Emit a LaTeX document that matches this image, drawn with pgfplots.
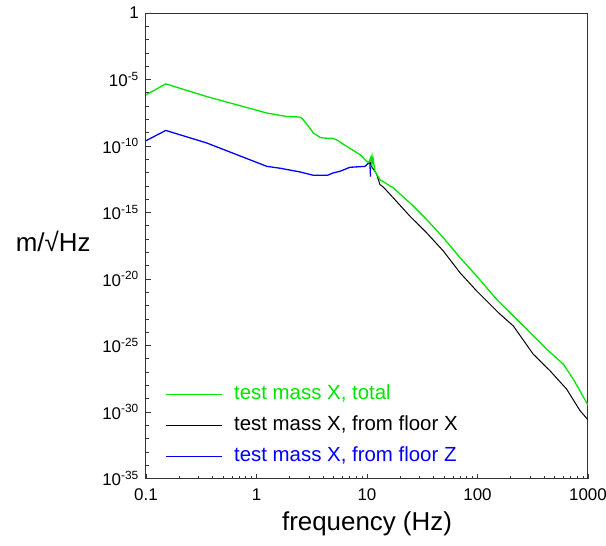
\documentclass[border=0pt]{standalone}
\usepackage{fontspec}
\setmainfont{Liberation Sans}
\usepackage{pgfplots}
\pgfplotsset{compat=1.18}
\definecolor{tmgreen}{RGB}{0,230,0}
\definecolor{tmblue}{RGB}{0,0,255}
\begin{document}
\begin{tikzpicture}
\useasboundingbox (0,0) rectangle (606bp,546bp);
\begin{axis}[
  at={(146bp,67.5bp)}, anchor=south west,
  scale only axis, width=442bp, height=465.5bp,
  xmode=log, ymode=log,
  xmin=0.1, xmax=1000, ymin=1e-35, ymax=1,
  axis line style={black!80, line width=1bp},
  tick style={black!80, line width=0.8bp},
  tick align=inside, tick pos=left,
  major tick length=5bp, minor tick length=3bp,
  xtick={0.1,1,10,100,1000}, xticklabels={0.1,1,10,100,1000},
  minor xtick={0.2,0.3,0.4,0.5,0.6,0.7,0.8,0.9,2,3,4,5,6,7,8,9,20,30,40,50,60,70,80,90,200,300,400,500,600,700,800,900},
  ytick={1e-35,1e-30,1e-25,1e-20,1e-15,1e-10,1e-5,1},
  yticklabels={10\textsuperscript{-35},10\textsuperscript{-30},10\textsuperscript{-25},10\textsuperscript{-20},10\textsuperscript{-15},10\textsuperscript{-10},10\textsuperscript{-5},1},
  minor ytick={1e-34,1e-33,1e-32,1e-31,1e-29,1e-28,1e-27,1e-26,1e-24,1e-23,1e-22,1e-21,1e-19,1e-18,1e-17,1e-16,1e-14,1e-13,1e-12,1e-11,1e-9,1e-8,1e-7,1e-6,1e-4,1e-3,1e-2,1e-1},
  tick label style={font=\fontsize{17}{20}\selectfont},
  yticklabel style={anchor=east, inner sep=0pt, xshift=-7bp},
  xticklabel style={anchor=north, inner sep=0pt, yshift=-10bp},
  xlabel={\fontsize{26}{30}\selectfont frequency (Hz)},
  ylabel={\fontsize{26}{30}\selectfont m/√Hz},
  every axis x label/.style={at={(axis description cs:0.5,-0.098)}, anchor=center},
  every axis y label/.style={at={(axis description cs:-0.21,0.509)}, anchor=center},
  legend style={draw=none, fill=none, at={(axis description cs:0.036,0.1146)}, anchor=west,
    row sep=13bp, column sep=12bp,
    nodes={inner sep=0pt, text height=14bp, text depth=4bp, font=\fontsize{20.5}{24}\selectfont}},
  legend cell align=left,
  reverse legend,
  legend image code/.code={\draw[#1, line width=1bp] (0bp,0bp) -- (56bp,0bp);},
]
% from floor Z
\addplot[tmblue, line width=1.3bp] coordinates {
(0.1,2.51e-10) (0.151,1.48e-9) (0.354,1.70e-10) (1.24,2.95e-12) (1.63,2.14e-12)
(2.48,1.12e-12) (3.27,6.31e-13) (4.4,6.31e-13) (4.92,9.33e-13) (5.7,1.26e-12)
(7.0,2.51e-12) (9.6,2.95e-12) (10.2,4.68e-12) (10.6,6.61e-12) (10.77,5.01e-13)
};
\addlegendentry{\textcolor{tmblue}{test mass X, from floor Z}}
% from floor X
\addplot[black, line width=1bp] coordinates {
(10.4,5.62e-12) (10.7,5.62e-12) (11.0,2.82e-12) (12.2,7.94e-13) (13.1,1.26e-13)
(14.1,7.94e-14) (17.3,1.26e-14) (24.5,5.25e-16) (34.7,2.95e-17) (49.1,1.26e-18)
(69.5,2.95e-20) (98.4,1.26e-21) (154.5,2.95e-23) (211,2.95e-24) (320,2.19e-26)
(453,1.26e-27) (641,5.25e-29) (847,1.26e-30) (1000,2.57e-31)
};
\addlegendentry{\textcolor{black}{test mass X, from floor X}}
% total
\addplot[tmgreen, line width=1.3bp] coordinates {
(0.1,7.08e-7) (0.151,4.68e-6) (0.354,5.25e-7) (1.24,3.02e-8) (1.87,1.66e-8)
(2.48,1.51e-8) (2.6,1.12e-8) (3.0,2.51e-9) (3.27,9.55e-10) (3.76,4.47e-10)
(4.04,3.98e-10) (4.92,3.72e-10) (5.3,2.95e-10) (6.55,9.33e-11) (8.65,2.24e-11)
(9.94,6.92e-12) (10.4,5.62e-12) (10.9,1.58e-11) (11.1,3.98e-12) (11.3,1.45e-11)
(11.8,1.26e-12) (13.1,2.95e-13) (17.3,7.08e-14) (24.5,5.25e-15) (34.7,2.95e-16)
(49.1,1.26e-17) (69.5,3.98e-19) (98.4,1.66e-20) (149,2.95e-22) (299,9.33e-25)
(423,5.25e-26) (598,3.98e-27) (736,2.95e-28) (1000,3.31e-30)
};
\addlegendentry{\textcolor{tmgreen}{test mass X, total}}
\end{axis}
\end{tikzpicture}
\end{document}
